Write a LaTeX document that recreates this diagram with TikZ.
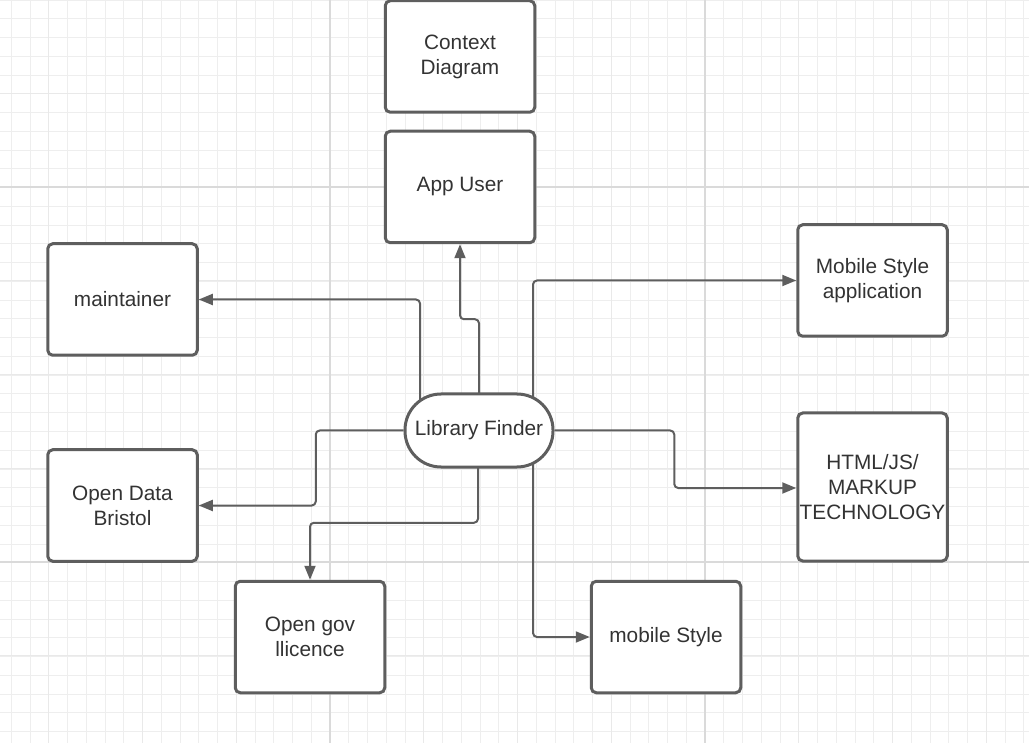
\documentclass[tikz,border=0pt]{standalone}
\usepackage{fontspec}
\setmainfont{Liberation Sans}
\usetikzlibrary{arrows.meta,calc}
\pgfdeclarelayer{bg}
\pgfdeclarelayer{conn}
\pgfsetlayers{bg,conn,main}
\definecolor{boxc}{HTML}{5E5E5E}
\definecolor{txtc}{HTML}{333333}
\definecolor{gminor}{HTML}{EEEEEE}
\definecolor{gmid}{HTML}{E9E9E9}
\definecolor{gmajor}{HTML}{DADADA}
\begin{document}
\begin{tikzpicture}[x=1pt,y=-1pt,
  box/.style={draw=boxc, line width=3pt, fill=white, rounded corners=5pt,
    minimum width=149.5pt, minimum height=111.5pt, align=center, text=txtc,
    font=\fontsize{20.8}{25}\selectfont, inner sep=0pt},
  pill/.style={box, rounded corners=36pt, minimum width=147pt, minimum height=72pt},
  conn/.style={draw=boxc, line width=2pt, rounded corners=4pt,
    -{Triangle[length=14pt,width=11pt]}},
  gridminor/.style={draw=gminor, line width=1pt},
  gridmid/.style={draw=gmid, line width=1.3pt},
  gridmajor/.style={draw=gmajor, line width=1.4pt}]
\useasboundingbox (0,0) rectangle (1029,743);
\begin{pgfonlayer}{bg}
  \fill[white] (0,0) rectangle (1029,743);
  \foreach \i in {0,...,54} {
    \draw[gridminor] ({11.25+18.75*\i},0) -- ++(0,743);
  }
  \foreach \i in {0,...,39} {
    \draw[gridminor] (0,{0.25+18.75*\i}) -- ++(1029,0);
  }
  \foreach \i in {0,...,10} {
    \draw[gridmid] ({48.75+93.75*\i},0) -- ++(0,743);
  }
  \foreach \i in {0,...,7} {
    \draw[gridmid] (0,{-0.5+93.75*\i}) -- ++(1029,0);
  }
  \foreach \x in {330,705} { \draw[gridmajor] (\x,0) -- ++(0,743); }
  \foreach \y in {187,562} { \draw[gridmajor] (0,\y) -- ++(1029,0); }
\end{pgfonlayer}

\node[box] (ctx) at (460,56.5) {Context\\Diagram};
\node[box] (app) at (460,187) {App User};
\node[box] (maint) at (122.5,299.5) {maintainer};
\node[box] (mobapp) at (872.5,280.5) {Mobile Style\\application};
\node[box, minimum height=148pt] (html) at (872.5,487) {HTML/JS/\\MARKUP\\TECHNOLOGY};
\node[box] (odb) at (122.5,505.5) {Open Data\\Bristol};
\node[box] (ogl) at (310,637) {Open gov\\llicence};
\node[box] (mst) at (666,637) {mobile Style};
\node[pill, minimum width=148pt, minimum height=73pt] (lf) at (479,430.5) {Library Finder};

\begin{pgfonlayer}{conn}
  \draw[conn] (lf.center) -- ($(app.south)+(19,75)$) -| (app.south);
  \draw[conn] ($(lf.center)+(-59,0)$) |- (maint.east);
  \draw[conn] ($(lf.center)+(54,0)$) |- (mobapp.west);
  \draw[conn] (lf.east) -| ($(html.west)+(-122,1)$) -- ($(html.west)+(0,1)$);
  \draw[conn] (lf.west) -| ($(odb.east)+(117,0)$) -- (odb.east);
  \draw[conn] ($(lf.center)+(-1,0)$) |- ($(ogl.north)+(0,-57)$) -- (ogl.north);
  \draw[conn] ($(lf.center)+(54,0)$) |- (mst.west);
\end{pgfonlayer}
\end{tikzpicture}
\end{document}
